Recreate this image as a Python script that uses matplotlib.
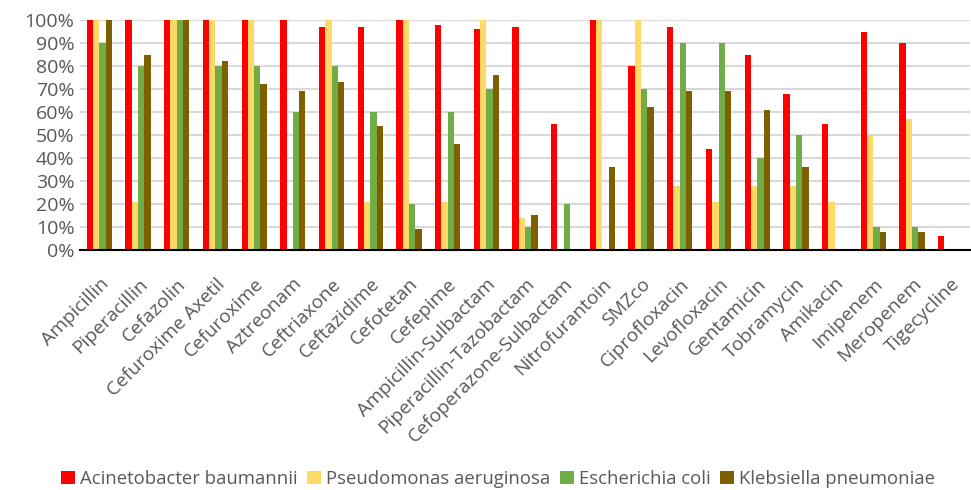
import numpy as np
import matplotlib
matplotlib.use("Agg")
import matplotlib.pyplot as plt
from matplotlib.ticker import PercentFormatter

# data
antibioticos = ['Ampicillin', 'Piperacillin', 'Cefazolin', 'Cefuroxime Axetil', 'Cefuroxime',
                'Aztreonam', 'Ceftriaxone', 'Ceftazidime', 'Cefotetan', 'Cefepime',
                'Ampicillin-Sulbactam', 'Piperacillin-Tazobactam', 'Cefoperazone-Sulbactam',
                'Nitrofurantoin', 'SMZco', 'Ciprofloxacin', 'Levofloxacin', 'Gentamicin',
                'Tobramycin', 'Amikacin', 'Imipenem', 'Meropenem', 'Tigecycline']

acinetobacter = [100, 100, 100, 100, 100, 100, 97, 97, 100, 98, 96, 97, 55,
                 100, 80, 97, 44, 85, 68, 55, 95, 90, 6]
pseudomonas = [100, 21, 100, 100, 100, 0, 100, 21, 100, 21, 100, 14, 0,
               100, 100, 28, 21, 28, 28, 21, 50, 57, 0]
ecoli = [90, 80, 100, 80, 80, 60, 80, 60, 20, 60, 70, 10, 20,
         0, 70, 90, 90, 40, 50, 0, 10, 10, 0]
klebsiella = [100, 85, 100, 82, 72, 69, 73, 54, 9, 46, 76, 15, 0,
              36, 62, 69, 69, 61, 36, 0, 8, 8, 0]

series = [('Acinetobacter baumannii', acinetobacter, '#FF0000'),
          ('Pseudomonas aeruginosa', pseudomonas, '#FFD966'),
          ('Escherichia coli', ecoli, '#70AD47'),
          ('Klebsiella pneumoniae', klebsiella, '#7F6000')]

plt.rcParams['font.family'] = ['Open Sans', 'DejaVu Sans']
gris = '#595959'

fig = plt.figure(figsize=(9.71, 4.90), dpi=100)
ax = fig.add_axes([0.0824, 0.49, 0.9166, 0.469])

x = np.arange(len(antibioticos))
ancho = 0.163
for i, (nombre, valores, color) in enumerate(series):
    ax.bar(x + (i - 1.5) * ancho, valores, ancho, color=color, label=nombre, zorder=3)

ax.set_xlim(-0.5, len(antibioticos) - 0.5)
ax.set_ylim(0, 100)
ax.set_yticks(np.arange(0, 101, 10))
ax.yaxis.set_major_formatter(PercentFormatter(decimals=0))
ax.grid(axis='y', color='#D9D9D9', linewidth=1.5, zorder=0)
ax.tick_params(axis='both', length=0, labelsize=14, colors=gris)
ax.tick_params(axis='y', pad=4)

ax.set_xticks(x)
ax.set_xticklabels(antibioticos, rotation=45, ha='right', rotation_mode='anchor',
                   fontsize=13.8, color=gris)
ax.tick_params(axis='x', pad=18)

for lado in ['top', 'right', 'left']:
    ax.spines[lado].set_visible(False)
ax.spines['bottom'].set_color('black')
ax.spines['bottom'].set_linewidth(1.5)
ax.spines['bottom'].set_zorder(4)

fig.legend(loc='lower center', bbox_to_anchor=(0.513, -0.03), ncol=4, frameon=False,
           fontsize=13.3, handlelength=0.75, handleheight=0.75, handletextpad=0.3,
           columnspacing=0.5, labelcolor=gris)

fig.savefig('out.png', dpi=100)
